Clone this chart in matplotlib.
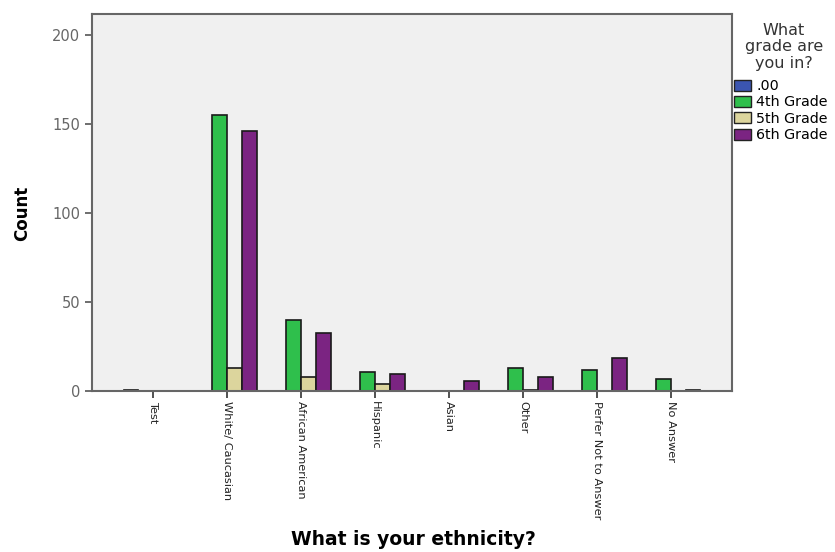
import matplotlib
matplotlib.use("Agg")
import matplotlib.pyplot as plt
import numpy as np
from matplotlib.patches import Patch

categories = ["Test", "White/ Caucasian", "African American", "Hispanic", "Asian",
              "Other", "Perfer Not to Answer", "No Answer"]
series_names = [".00", "4th Grade", "5th Grade", "6th Grade"]
vals_00 = [1, 0, 0, 0, 0, 0, 0, 0]
vals_4th = [0, 155, 40, 11, 0, 13, 12, 7]
vals_5th = [0, 13, 8, 4, 0, 1, 0, 0]
vals_6th = [0, 146, 33, 10, 6, 8, 19, 1]
colors = ["#3b55b0", "#2fbf4c", "#dcd59d", "#7b2482"]

series = [vals_00, vals_4th, vals_5th, vals_6th]

fig = plt.figure(figsize=(8.35, 5.52), dpi=100)
ax = fig.add_axes([0.110, 0.291, 0.767, 0.6845])
ax.set_facecolor("#f0f0f0")

x = np.arange(len(categories))
w = 0.2
offsets = [-0.3, -0.1, 0.1, 0.3]
for vals, c, off in zip(series, colors, offsets):
    v = np.array(vals, dtype=float)
    mask = v > 0
    ax.bar(x[mask] + off, v[mask], width=w, color=c, edgecolor="#1a1a1a", linewidth=1.2)

ax.set_xlim(-0.83, 7.83)
ax.set_ylim(0, 212)
ax.set_yticks([0, 50, 100, 150, 200])
ax.set_xticks(x)
ax.set_xticklabels(categories, rotation=270, fontsize=8.2, color="#222222",
                   va="top", ha="center")
ax.tick_params(axis="y", labelsize=10.5, labelcolor="#666666", length=5, color="#555555", width=1.2)
ax.tick_params(axis="x", length=5, color="#333333", width=1.2, pad=2)
for s in ax.spines.values():
    s.set_color("#666666")
    s.set_linewidth(1.5)

fig.text(0.027, 0.614, "Count", rotation=90, fontsize=12, fontweight="bold",
         ha="center", va="center")
fig.text(0.495, 0.022, "What is your ethnicity?", fontsize=13.5, fontweight="bold",
         ha="center", va="center")

# legend title
fig.text(0.939, 1 - 47 / 552, "What\ngrade are\nyou in?", fontsize=11.5, color="#333333",
         ha="center", va="center", multialignment="center", linespacing=1.12)

handles = [Patch(facecolor=c, edgecolor="#222222", label=n) for c, n in zip(colors, series_names)]
leg = fig.legend(handles=handles, loc="upper left", bbox_to_anchor=(0.879, 1 - 79 / 552),
                 frameon=False, fontsize=10.3, handlelength=1.2, handleheight=0.8,
                 handletextpad=0.35, labelspacing=0.17, borderpad=0.0, borderaxespad=0.0)

fig.savefig("out.png", dpi=100, facecolor="white")
